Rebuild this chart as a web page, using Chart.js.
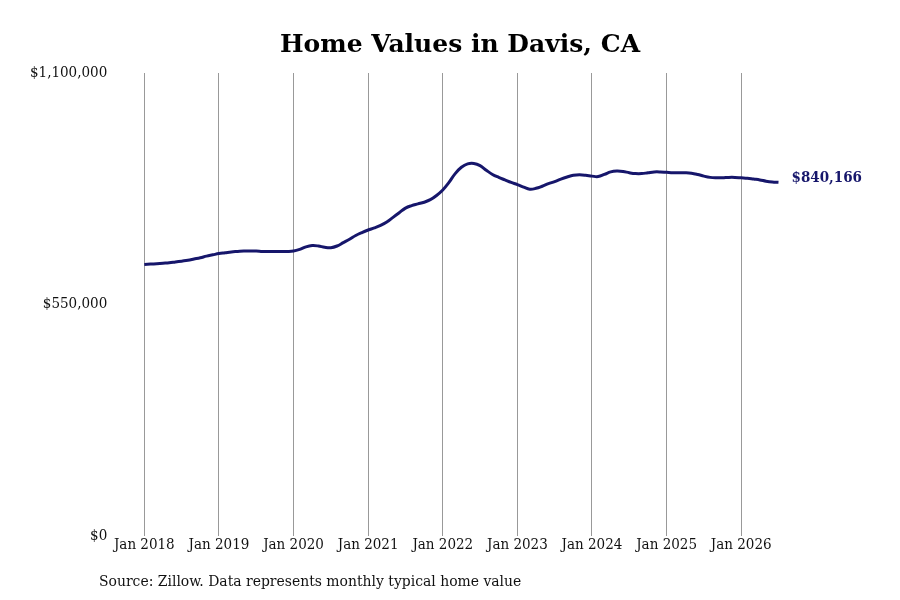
<!DOCTYPE html>
<html>
<head>
<meta charset="utf-8">
<title>Home Values in Davis, CA</title>
<script src="https://cdn.jsdelivr.net/npm/chart.js@4.4.1/dist/chart.umd.min.js"></script>
<style>
  html, body { margin: 0; padding: 0; background: #fff; }
  #wrap { width: 900px; height: 600px; position: relative; }
</style>
</head>
<body>
<div id="wrap"><canvas id="homeChart" width="900" height="600"></canvas></div>
<script>
// monthly typical home value, Jan 2018 .. Jul 2026
const values2018 = [645000, 646000, 647000, 648000, 649000, 651000, 653000, 655000, 658000, 661000, 665000, 668000];
const values2019 = [671000, 673000, 675000, 676000, 677000, 677000, 677000, 676000, 676000, 676000, 676000, 676000];
const values2020 = [677000, 681000, 687000, 690000, 689000, 686000, 685000, 689000, 697000, 705000, 714000, 721000];
const values2021 = [727000, 732000, 738000, 746000, 757000, 768000, 779000, 785000, 789000, 793000, 799000, 809000];
const values2022 = [822000, 840000, 861000, 876000, 884000, 885000, 880000, 869000, 859000, 852000, 846000, 840000];
const values2023 = [835000, 829000, 824000, 826000, 831000, 837000, 842000, 848000, 853000, 857000, 858000, 857000];
const values2024 = [855000, 854000, 859000, 865000, 867000, 866000, 863000, 861000, 861000, 863000, 865000, 865000];
const values2025 = [864000, 863000, 863000, 863000, 862000, 859000, 855000, 852000, 851000, 851000, 852000, 852000];
const values2026 = [851000, 850000, 848000, 846000, 843000, 841000, 840166];

const homeValues = [].concat(values2018, values2019, values2020, values2021, values2022,
    values2023, values2024, values2025, values2026);

const yearLabels = ['Jan 2018', 'Jan 2019', 'Jan 2020', 'Jan 2021', 'Jan 2022',
    'Jan 2023', 'Jan 2024', 'Jan 2025', 'Jan 2026'];
const yTicks = [0, 550000, 1100000];

const lineColor = '#16166b';
const serif = 'DejaVu Serif Condensed, DejaVu Serif, serif';

function money(v) {
    return '$' + Math.round(v).toLocaleString('en-US');
}

// last value next to the end of the line + source note at the bottom
const extraText = {
    id: 'extraText',
    afterDraw(chart) {
        const ctx = chart.ctx;
        const meta = chart.getDatasetMeta(0);
        const last = meta.data[meta.data.length - 1];
        ctx.save();
        ctx.fillStyle = lineColor;
        ctx.font = 'bold 15px ' + serif;
        ctx.textAlign = 'left';
        ctx.textBaseline = 'middle';
        ctx.fillText(money(homeValues[homeValues.length - 1]), last.x + 13, last.y - 4);

        ctx.fillStyle = '#111';
        ctx.font = '15.5px ' + serif;
        ctx.fillText('Source: Zillow. Data represents monthly typical home value', 99, 582);
        ctx.restore();
    }
};

const ctx = document.getElementById('homeChart').getContext('2d');
new Chart(ctx, {
    type: 'line',
    data: {
        datasets: [{
            label: 'Home value',
            data: homeValues.map((v, i) => ({ x: i, y: v })),
            borderColor: lineColor,
            backgroundColor: lineColor,
            borderWidth: 3,
            pointRadius: 0,
            tension: 0.4,
            fill: false
        }]
    },
    options: {
        responsive: false,
        animation: false,
        layout: {
            padding: { left: 24, right: 4, top: 0, bottom: 46 }
        },
        plugins: {
            legend: { display: false },
            tooltip: { enabled: false },
            title: {
                display: true,
                text: 'Home Values in Davis, CA',
                color: '#000',
                font: { family: 'DejaVu Serif', size: 25, weight: 'bold' },
                padding: { top: 30, bottom: 13 }
            }
        },
        scales: {
            x: {
                type: 'linear',
                min: -5,
                max: 120.9,
                afterBuildTicks: (axis) => {
                    axis.ticks = yearLabels.map((l, i) => ({ value: i * 12 }));
                },
                ticks: {
                    autoSkip: false,
                    maxRotation: 0,
                    color: '#111',
                    font: { family: serif, size: 15 },
                    padding: 0,
                    callback: (v) => yearLabels[v / 12]
                },
                grid: {
                    color: '#999',
                    lineWidth: 1,
                    drawTicks: false
                },
                border: { display: false }
            },
            y: {
                min: 0,
                max: 1100000,
                afterBuildTicks: (axis) => {
                    axis.ticks = yTicks.map(v => ({ value: v }));
                },
                ticks: {
                    color: '#111',
                    font: { family: serif, size: 15 },
                    padding: 6,
                    callback: (v) => money(v)
                },
                grid: { display: false, drawTicks: false },
                border: { display: false }
            }
        }
    },
    plugins: [extraText]
});
</script>
</body>
</html>
